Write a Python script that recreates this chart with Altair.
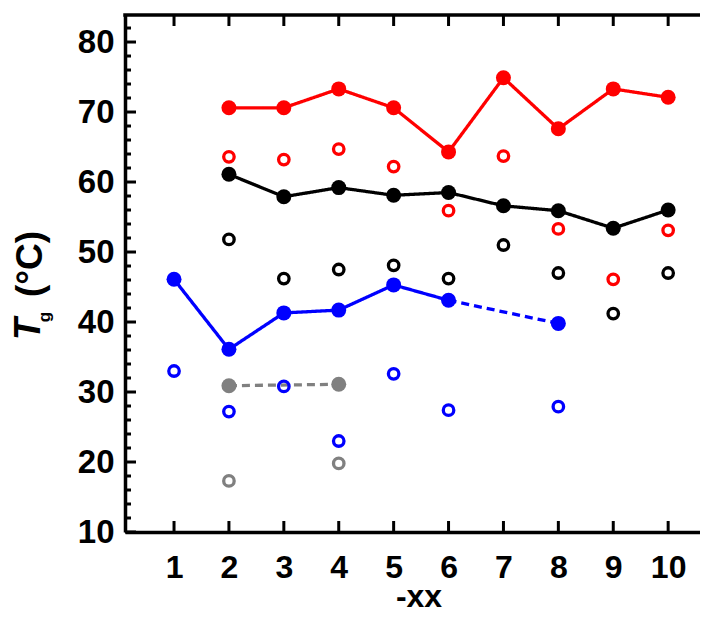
import altair as alt
import pandas as pd

# ---------------- data ----------------
xs = [1, 2, 3, 4, 5, 6, 7, 8, 9, 10]
red_filled = [None, 70.6, 70.6, 73.3, 70.6, 64.3, 74.9, 67.6, 73.3, 72.1]
red_open = [None, 63.6, 63.2, 64.7, 62.2, 55.9, 63.7, 53.3, 46.1, 53.1]
black_filled = [None, 61.1, 57.9, 59.2, 58.1, 58.5, 56.6, 55.9, 53.4, 56.0]
black_open = [None, 51.8, 46.2, 47.5, 48.1, 46.2, 51.0, 47.0, 41.2, 47.0]
blue_filled = [46.1, 36.1, 41.3, 41.7, 45.3, 43.1, None, 39.8, None, None]
blue_open = [33.0, 27.2, 30.8, 23.0, 32.6, 27.4, None, 27.9, None, None]
gray_filled = [None, 30.9, None, 31.1, None, None, None, None, None, None]
gray_open = [None, 17.3, None, 19.8, None, None, None, None, None, None]

# line segments: (series, style, x from, x to)
segments = [
    ("red", "solid", 2, 10),
    ("black", "solid", 2, 10),
    ("blue", "solid", 1, 6),
    ("blue", "dashed", 6, 8),
    ("gray", "dashed", 2, 4),
]

y_major = [10, 20, 30, 40, 50, 60, 70, 80]
y_minor = [12, 14, 16, 18, 22, 24, 26, 28, 32, 34, 36, 38, 42, 44, 46, 48,
           52, 54, 56, 58, 62, 64, 66, 68, 72, 74, 76, 78, 82]
x_ticks = xs

series_names = ["red", "black", "blue", "gray"]
series_colors = ["#ff0000", "#000000", "#0000ff", "#808080"]

# ---------------- build tables ----------------
filled_map = {"red": red_filled, "black": black_filled, "blue": blue_filled, "gray": gray_filled}
open_map = {"red": red_open, "black": black_open, "blue": blue_open, "gray": gray_open}

rows_f, rows_o = [], []
for s in series_names:
    for x, v in zip(xs, filled_map[s]):
        if v is not None:
            rows_f.append({"x": x, "y": v, "series": s})
    for x, v in zip(xs, open_map[s]):
        if v is not None:
            rows_o.append({"x": x, "y": v, "series": s})
df_f = pd.DataFrame(rows_f)
df_o = pd.DataFrame(rows_o)

line_rows = []
for i, (s, style, a, b) in enumerate(segments):
    for x, v in zip(xs, filled_map[s]):
        if v is not None and a <= x <= b:
            line_rows.append({"x": x, "y": v, "series": s, "style": style, "seg": i})
df_l = pd.DataFrame(line_rows)

FONT = "Liberation Sans"
W, H = 575, 517
xscale = alt.Scale(domain=[0.107, 10.58], nice=False, zero=False)
yscale = alt.Scale(domain=[10, 83.86], nice=False, zero=False)
cscale = alt.Scale(domain=series_names, range=series_colors)

xaxis = alt.Axis(values=xs, format="d", title=None, grid=False, ticks=False,
                 domainColor="black", domainWidth=3.5,
                 labelFont=FONT, labelFontSize=32, labelFontWeight="bold",
                 labelColor="black", labelPadding=20, labelFlush=False)
yaxis = alt.Axis(values=y_major, format="d", title=None, grid=False, ticks=False,
                 domainColor="black", domainWidth=3.5,
                 labelFont=FONT, labelFontSize=33, labelFontWeight="bold",
                 labelColor="black", labelPadding=11, labelFlush=False)

X = alt.X("x:Q", scale=xscale, axis=xaxis)
Y = alt.Y("y:Q", scale=yscale, axis=yaxis)

lines = alt.Chart(df_l).mark_line(strokeWidth=3.3).encode(
    x=X, y=Y,
    color=alt.Color("series:N", scale=cscale, legend=None),
    strokeDash=alt.StrokeDash("style:N", scale=alt.Scale(domain=["solid", "dashed"], range=[[1, 0], [8, 5]]), legend=None),
    detail="seg:N",
)

filled = alt.Chart(df_f).mark_circle(size=225, opacity=1).encode(
    x=X, y=Y, color=alt.Color("series:N", scale=cscale, legend=None)
)
opened = alt.Chart(df_o).mark_point(shape="circle", filled=False, size=110, strokeWidth=3.3, opacity=1).encode(
    x=X, y=Y, color=alt.Color("series:N", scale=cscale, legend=None)
)

df_ymaj = pd.DataFrame({"y": y_major})
df_ymin = pd.DataFrame({"y": y_minor})
df_xt = pd.DataFrame({"x": x_ticks})

ytick_maj = alt.Chart(df_ymaj).mark_rule(color="black", strokeWidth=3).encode(
    y=Y, x=alt.value(0), x2=alt.value(11))
ytick_min = alt.Chart(df_ymin).mark_rule(color="black", strokeWidth=3).encode(
    y=Y, x=alt.value(0), x2=alt.value(6))
xtick_bot = alt.Chart(df_xt).mark_rule(color="black", strokeWidth=3).encode(
    x=X, y=alt.value(H), y2=alt.value(H - 11))
xtick_top = alt.Chart(df_xt).mark_rule(color="black", strokeWidth=3).encode(
    x=X, y=alt.value(0), y2=alt.value(11))
top_line = alt.Chart(df_xt.head(1)).mark_rule(color="black", strokeWidth=3.5).encode(
    x=alt.value(-1.75), x2=alt.value(W), y=alt.value(0))

def label(txt, x, y, size, style="normal", weight="bold"):
    return alt.Chart(pd.DataFrame({"t": [txt]})).mark_text(
        font=FONT, fontSize=size, fontWeight=weight, fontStyle=style,
        angle=270, align="center", baseline="alphabetic", color="black"
    ).encode(text="t:N", x=alt.value(x), y=alt.value(y))

t_T = label("T", -85, 314, 36, style="italic")
t_g = label("g", -75, 302, 17)
t_C = label("(°C)", -83, 249, 37)
t_x = alt.Chart(pd.DataFrame({"t": ["-xx"]})).mark_text(
    font=FONT, fontSize=32, fontWeight="bold", align="center", baseline="alphabetic", color="black"
).encode(text="t:N", x=alt.value(294), y=alt.value(592))

chart = alt.layer(
    lines, opened, filled, ytick_maj, ytick_min, xtick_bot, xtick_top, top_line,
    t_T, t_g, t_C, t_x
).properties(
    width=W, height=H,
    autosize=alt.AutoSizeParams(type="none"),
    padding={"left": 117, "top": 7, "right": 0, "bottom": 82},
).configure_view(stroke=None)

chart.save("out.html", embed_options={"renderer": "svg", "actions": False})
